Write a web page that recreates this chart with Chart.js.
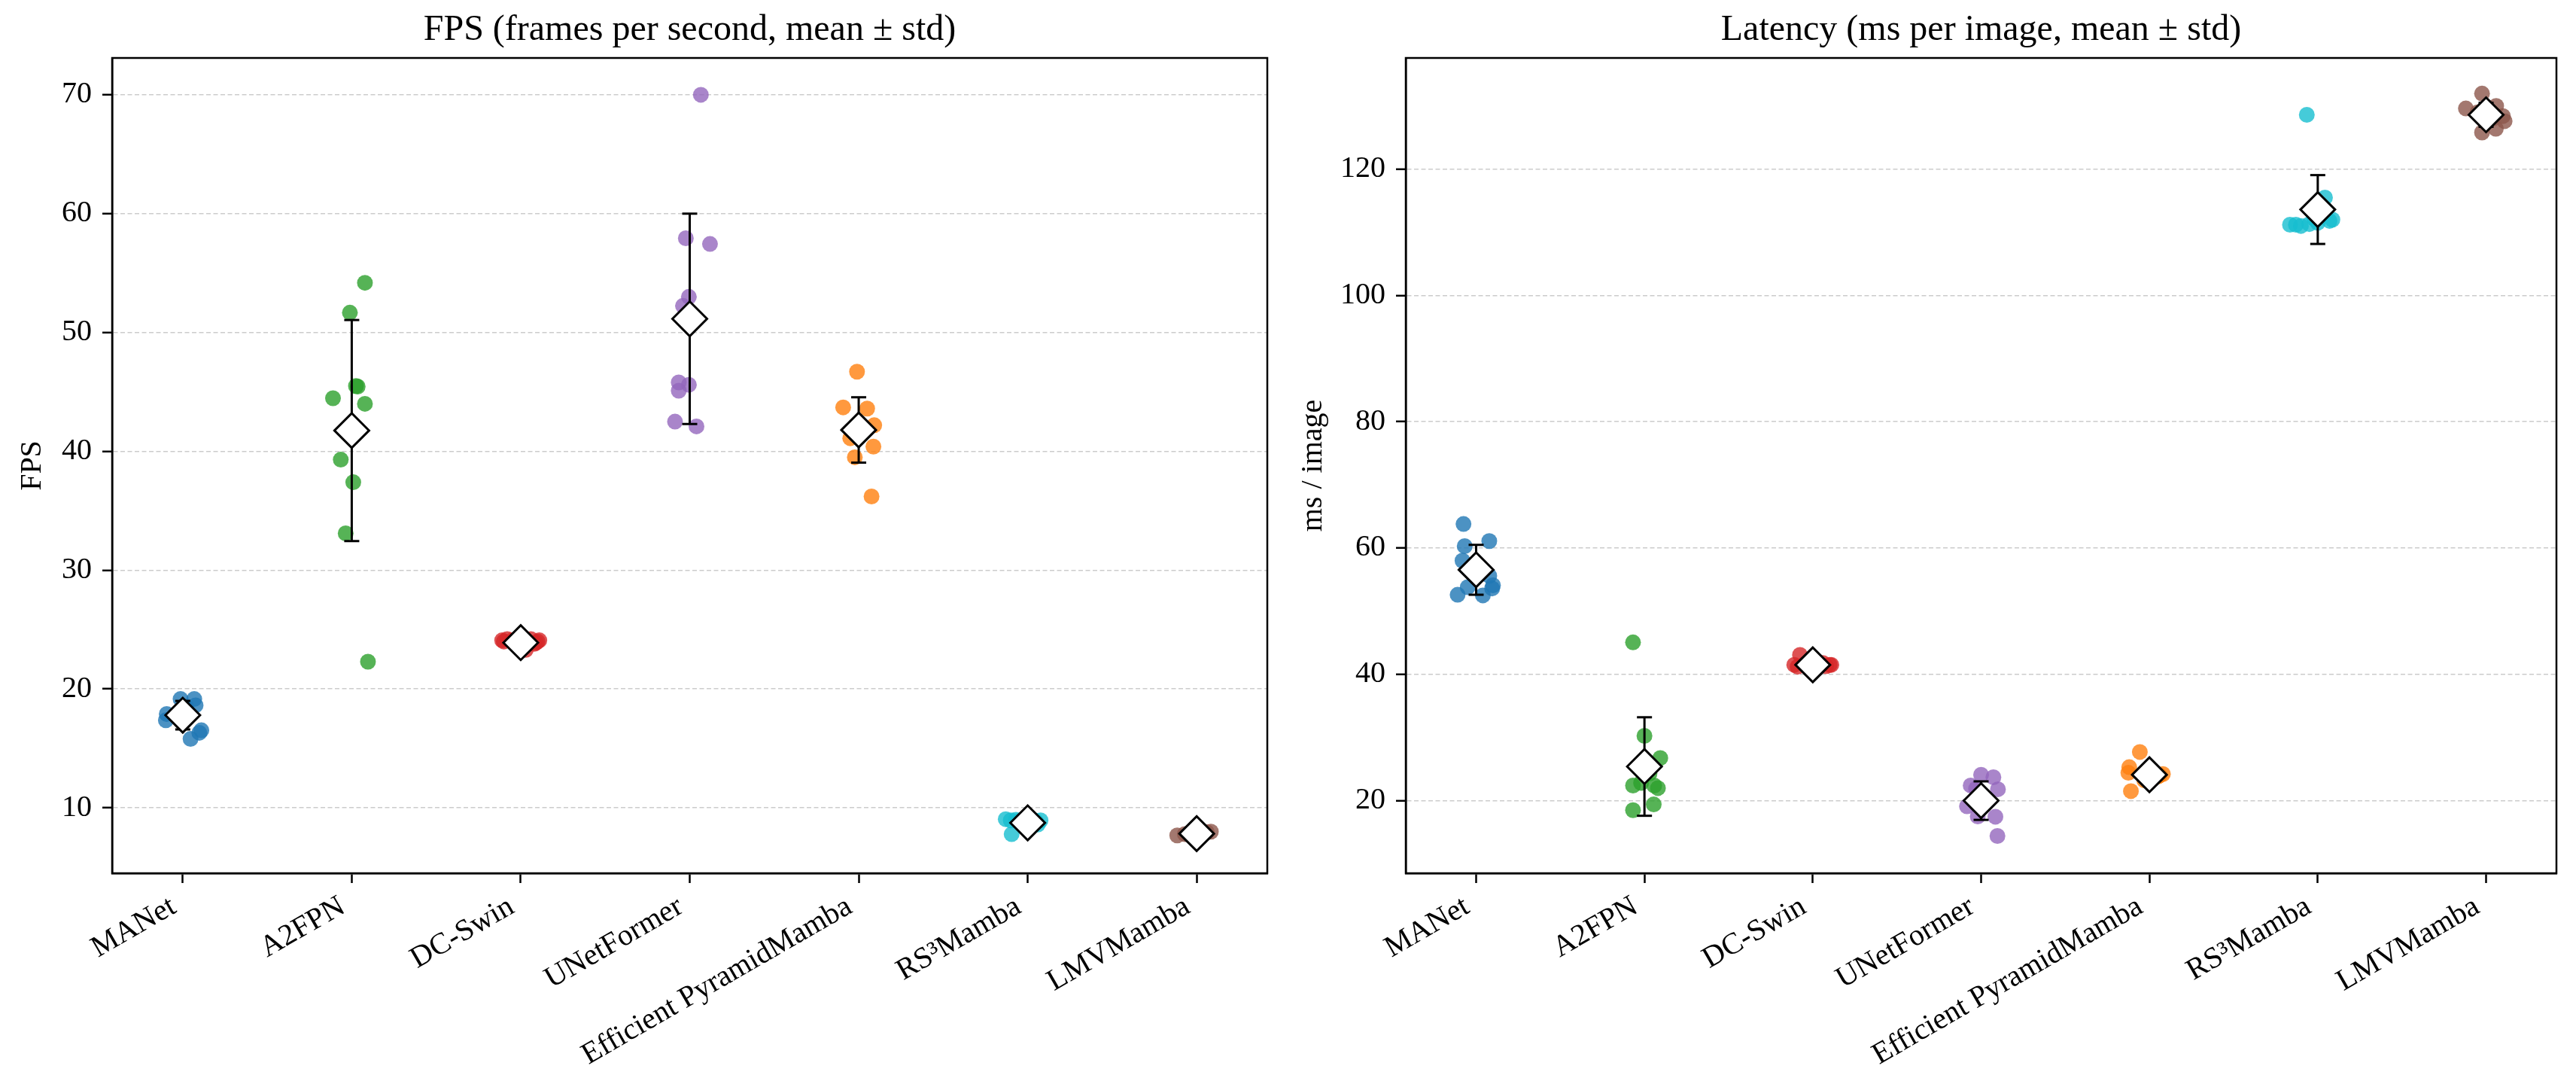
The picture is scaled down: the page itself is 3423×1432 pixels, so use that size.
<!DOCTYPE html>
<html>
<head>
<meta charset="utf-8">
<script src="https://cdn.jsdelivr.net/npm/chart.js@4.4.1/dist/chart.umd.min.js"></script>
<style>
  html, body { margin: 0; padding: 0; background: #fff; }
  body { width: 3423px; height: 1432px; position: relative; overflow: hidden; }
  canvas { position: absolute; top: 0; }
  #fpsChart { left: 0; }
  #latChart { left: 1711px; }
</style>
</head>
<body>
<canvas id="fpsChart" width="1711" height="1432"></canvas>
<canvas id="latChart" width="1712" height="1432"></canvas>
<script>
const models = ["MANet", "A2FPN", "DC-Swin", "UNetFormer", "Efficient PyramidMamba", "RS\u00B3Mamba", "LMVMamba"];
const colors = [
  "rgba(31,119,180,0.8)", "rgba(44,160,44,0.8)", "rgba(214,39,40,0.8)", "rgba(148,103,189,0.8)",
  "rgba(255,127,14,0.8)", "rgba(23,190,207,0.8)", "rgba(140,86,75,0.8)"
];

// FPS: individual runs, horizontal jitter, mean and std
const fpsRuns = [
  [19.16, 19.16, 18.63, 18.5, 17.9, 17.37, 16.53, 16.32, 15.8, 18.0],
  [54.18, 51.67, 45.45, 45.5, 44.47, 44.0, 39.3, 37.4, 33.1, 22.3],
  [24.1, 24.2, 24.0, 23.9, 24.1, 24.2, 23.3, 24.0, 23.8, 24.1],
  [70.0, 57.93, 57.45, 53.0, 52.24, 45.8, 45.6, 45.1, 42.5, 42.1],
  [46.7, 43.7, 43.6, 42.2, 42.0, 41.1, 40.4, 39.5, 36.2, 41.8],
  [9.05, 8.95, 7.79, 8.9, 9.0, 8.95, 8.85, 8.9, 9.0, 8.6],
  [7.68, 8.0, 7.8, 7.75, 7.9, 7.85, 7.7, 7.95, 7.8, 7.9]
];
const fpsJitter = [
  [-0.013, 0.068, 0.076, 0.02, -0.095, -0.10, 0.11, 0.098, 0.046, -0.03],
  [0.078, -0.011, 0.035, 0.025, -0.111, 0.078, -0.065, 0.009, -0.036, 0.096],
  [-0.11, -0.08, 0.10, 0.09, -0.05, 0.06, 0.03, -0.10, 0.08, 0.11],
  [0.066, -0.023, 0.12, -0.005, -0.04, -0.065, -0.005, -0.065, -0.087, 0.04],
  [-0.01, -0.092, 0.05, 0.092, 0.02, -0.05, 0.087, -0.023, 0.076, -0.03],
  [-0.13, 0.076, -0.095, -0.05, 0.03, -0.1, 0.05, 0.0, -0.07, 0.06],
  [-0.115, 0.084, 0.0, -0.05, 0.05, -0.02, 0.03, 0.06, -0.07, 0.02]
];
const fpsMean = [17.8, 41.75, 23.9, 51.15, 41.8, 8.74, 7.83];
const fpsStd = [1.2, 9.3, 0.35, 8.85, 2.75, 0.4, 0.1];
const fpsTicks = [10, 20, 30, 40, 50, 60, 70];

// Latency: individual runs, horizontal jitter, mean and std
const latRuns = [
  [63.8, 61.1, 60.3, 58.0, 55.6, 53.8, 54.1, 53.6, 52.6, 52.5],
  [45.06, 30.26, 26.75, 22.39, 22.39, 21.98, 19.4, 18.48, 24.3, 22.8],
  [43.07, 41.5, 41.5, 41.3, 41.6, 41.4, 41.2, 41.8, 42.0, 41.5],
  [14.4, 17.45, 17.5, 19.1, 19.3, 21.8, 21.9, 22.4, 23.7, 24.1],
  [27.7, 25.3, 24.4, 24.0, 21.5, 24.5, 23.8, 23.2, 24.2, 23.6],
  [128.6, 115.5, 112.0, 111.2, 111.2, 111.0, 111.3, 111.5, 111.8, 112.1],
  [131.96, 129.6, 128.4, 127.6, 125.8, 126.4, 128.8, 129.0, 128.0, 130.0]
];
const latJitter = [
  [-0.075, 0.078, -0.068, -0.081, 0.078, -0.05, 0.10, 0.095, -0.11, 0.04],
  [-0.068, 0.0, 0.094, -0.068, 0.058, 0.08, 0.055, -0.068, 0.03, -0.02],
  [-0.076, -0.11, 0.10, 0.08, -0.05, 0.03, -0.09, 0.06, 0.02, 0.11],
  [0.097, 0.085, -0.02, -0.084, 0.01, 0.10, -0.03, -0.062, 0.073, 0.0],
  [-0.057, -0.12, -0.125, 0.06, -0.11, 0.02, 0.05, -0.03, 0.08, 0.0],
  [-0.065, 0.043, 0.087, -0.13, -0.165, -0.1, -0.05, 0.0, 0.07, -0.02],
  [-0.024, -0.12, 0.10, 0.11, -0.024, 0.058, 0.0, -0.05, 0.04, 0.06]
];
const latMean = [56.55, 25.4, 41.5, 20.0, 24.1, 113.6, 128.6];
const latStd = [3.95, 7.8, 0.55, 3.05, 1.6, 5.45, 1.9];
const latTicks = [20, 40, 60, 80, 100, 120];

const serif = "'Liberation Serif', 'Times New Roman', serif";
Chart.defaults.font.family = serif;
Chart.defaults.color = "#000";

// draws the closed axes box on top of the data
const framePlugin = {
  id: "frame",
  afterDatasetsDraw(chart) {
    const a = chart.chartArea;
    const ctx = chart.ctx;
    ctx.save();
    ctx.strokeStyle = "#000";
    ctx.lineWidth = 2.5;
    ctx.strokeRect(a.left, a.top, a.right - a.left, a.bottom - a.top);
    ctx.restore();
  }
};

function buildDatasets(runs, jitter, mean, std) {
  let sets = [];

  sets.push({
    data: mean.map((m, i) => ({ x: i, y: m })),
    pointStyle: "rectRot",
    pointRadius: 23,
    backgroundColor: "#fff",
    borderColor: "#000",
    borderWidth: 3,
    order: 0
  });

  mean.forEach(function(m, i) {
    sets.push({
      data: [{ x: i, y: m - std[i] }, { x: i, y: m + std[i] }],
      showLine: true,
      borderColor: "#000",
      borderWidth: 3,
      pointStyle: "line",
      pointRadius: 10,
      pointBorderColor: "#000",
      pointBorderWidth: 3,
      order: 1
    });
  });

  runs.forEach(function(vals, i) {
    sets.push({
      data: vals.map((v, k) => ({ x: i + jitter[i][k], y: v })),
      backgroundColor: colors[i],
      borderWidth: 0,
      pointRadius: 10.5,
      order: 2
    });
  });

  return sets;
}

function makePanel(id, cfg) {
  return new Chart(document.getElementById(id), {
    type: "scatter",
    data: { datasets: buildDatasets(cfg.runs, cfg.jitter, cfg.mean, cfg.std) },
    plugins: [framePlugin],
    options: {
      responsive: false,
      animation: false,
      devicePixelRatio: 1,
      events: [],
      layout: { padding: { left: 0, right: cfg.padRight, top: 0, bottom: 0 } },
      plugins: {
        legend: { display: false },
        tooltip: { enabled: false },
        title: {
          display: true,
          text: cfg.title,
          fullSize: false,
          color: "#000",
          font: { family: serif, size: 48, weight: "normal" },
          padding: { top: 12, bottom: 7.4 }
        }
      },
      scales: {
        x: {
          type: "linear",
          min: -0.418,
          max: 6.418,
          afterBuildTicks: s => { s.ticks = models.map((m, i) => ({ value: i })); },
          afterFit: s => { s.height = 272; },
          ticks: {
            callback: v => models[v],
            autoSkip: false,
            minRotation: 30,
            maxRotation: 30,
            padding: 8,
            labelOffset: -12,
            color: "#000",
            font: { family: serif, size: 40 }
          },
          grid: { drawOnChartArea: false, tickLength: 13, tickWidth: 2.5, tickColor: "#000" },
          border: { color: "#000", width: 2.5 }
        },
        y: {
          min: cfg.yMin,
          max: cfg.yMax,
          afterBuildTicks: s => { s.ticks = cfg.ticks.map(v => ({ value: v })); },
          afterFit: s => { s.width = cfg.yWidth; },
          title: {
            display: true,
            text: cfg.yTitle,
            color: "#000",
            font: { family: serif, size: 40 },
            padding: { top: cfg.yTitlePad, bottom: 0 }
          },
          ticks: { color: "#000", padding: 14, font: { family: serif, size: 40 } },
          grid: { color: "#cccccc", lineWidth: 1.6, tickLength: 13, tickWidth: 2.5, tickColor: "#000" },
          border: { color: "#000", width: 2.5, dash: [6, 3.5] }
        }
      }
    }
  });
}

makePanel("fpsChart", {
  title: "FPS (frames per second, mean \u00B1 std)",
  yTitle: "FPS",
  runs: fpsRuns, jitter: fpsJitter, mean: fpsMean, std: fpsStd, ticks: fpsTicks,
  yMin: 4.5, yMax: 73.1, yWidth: 149, yTitlePad: 19, padRight: 27
});

makePanel("latChart", {
  title: "Latency (ms per image, mean \u00B1 std)",
  yTitle: "ms / image",
  runs: latRuns, jitter: latJitter, mean: latMean, std: latStd, ticks: latTicks,
  yMin: 8.5, yMax: 137.6, yWidth: 157, yTitlePad: 10, padRight: 19
});
</script>
</body>
</html>
